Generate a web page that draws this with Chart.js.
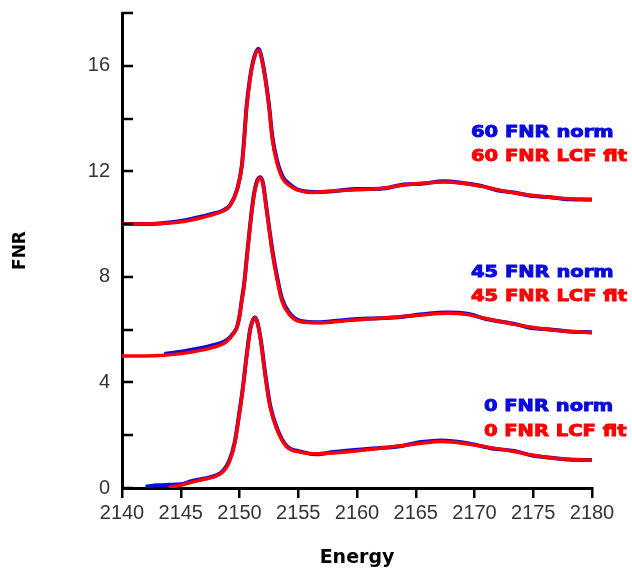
<!DOCTYPE html>
<html>
<head>
<meta charset="utf-8">
<script src="https://cdn.jsdelivr.net/npm/chart.js@4"></script>
<style>
    html, body { margin: 0; padding: 0; background: #ffffff; }
    #wrap { width: 632px; height: 569px; }
</style>
</head>
<body>
<div id="wrap"><canvas id="fnr-chart" width="632" height="569"></canvas></div>
<script>
// 0 FNR (offset 0)
const fnr0Energy = [2142, 2143, 2144, 2145, 2145.9, 2147, 2148, 2148.6, 2149.1, 2149.6, 2150.0, 2150.3, 2150.6, 2150.9, 2151.1, 2151.3, 2151.5, 2151.8, 2152.2, 2152.6, 2153.2, 2154.0, 2155.2, 2156.6, 2158, 2160.6, 2163.5, 2165.5, 2167.2, 2169.4, 2171.5, 2173.4, 2175, 2176.3, 2178, 2180];
const fnr0Norm = [0.05, 0.1, 0.12, 0.14, 0.26, 0.36, 0.48, 0.65, 1.0, 1.75, 2.9, 3.85, 5.0, 6.0, 6.32, 6.46, 6.32, 5.65, 4.3, 3.15, 2.26, 1.6, 1.38, 1.28, 1.36, 1.47, 1.57, 1.74, 1.8, 1.7, 1.5, 1.4, 1.22, 1.16, 1.08, 1.06];
const fnr0Fit = [null, null, 0.04, 0.1, 0.22, 0.33, 0.45, 0.62, 0.95, 1.7, 2.84, 3.8, 4.95, 5.95, 6.3, 6.44, 6.3, 5.6, 4.22, 3.08, 2.2, 1.57, 1.36, 1.3, 1.33, 1.44, 1.59, 1.7, 1.76, 1.67, 1.52, 1.38, 1.24, 1.15, 1.09, 1.05];

// 45 FNR (offset 5)
const fnr45Energy = [2140, 2142, 2143.6, 2145.5, 2147.5, 2148.9, 2149.5, 2149.8, 2150.0, 2150.2, 2150.4, 2150.6, 2150.9, 2151.2, 2151.5, 2151.8, 2152.0, 2152.3, 2152.8, 2153.2, 2153.6, 2154.2, 2155.2, 2156.9, 2159.2, 2161, 2163.5, 2165.5, 2167.7, 2169.4, 2171, 2173.4, 2175, 2176.3, 2178, 2180];
const fnr45Norm = [null, null, 5.08, 5.2, 5.38, 5.6, 5.88, 6.12, 6.52, 7.15, 7.75, 8.65, 9.95, 11.05, 11.65, 11.78, 11.55, 10.6, 9.0, 8.0, 7.2, 6.66, 6.33, 6.28, 6.38, 6.42, 6.47, 6.58, 6.65, 6.6, 6.4, 6.22, 6.05, 6.02, 5.93, 5.9];
const fnr45Fit = [5.0, 5.0, 5.03, 5.12, 5.3, 5.55, 5.85, 6.1, 6.5, 7.1, 7.7, 8.6, 9.9, 11.0, 11.6, 11.75, 11.5, 10.55, 8.9, 7.9, 7.1, 6.6, 6.3, 6.26, 6.35, 6.4, 6.48, 6.56, 6.62, 6.57, 6.42, 6.2, 6.08, 6.0, 5.94, 5.88];

// 60 FNR (offset 10)
const fnr60Energy = [2140, 2142, 2144, 2145.5, 2146.6, 2147.5, 2148.5, 2149.2, 2149.8, 2150.2, 2150.4, 2150.6, 2150.9, 2151.2, 2151.6, 2152.0, 2152.5, 2152.8, 2153.2, 2153.7, 2154.3, 2154.9, 2156.3, 2157.7, 2160, 2162, 2164, 2165.5, 2167.4, 2169, 2170.6, 2172, 2173.4, 2175, 2176.3, 2178, 2180];
const fnr60Norm = [10.0, 10.0, 10.06, 10.16, 10.27, 10.37, 10.5, 10.72, 11.32, 12.22, 13.25, 14.45, 15.55, 16.25, 16.65, 16.05, 14.55, 13.3, 12.4, 11.78, 11.5, 11.32, 11.22, 11.24, 11.33, 11.34, 11.5, 11.53, 11.62, 11.56, 11.45, 11.27, 11.2, 11.06, 11.03, 10.94, 10.93];
const fnr60Fit = [10.0, 10.0, 10.04, 10.12, 10.22, 10.33, 10.48, 10.7, 11.3, 12.2, 13.2, 14.4, 15.5, 16.2, 16.6, 16.0, 14.5, 13.2, 12.3, 11.7, 11.45, 11.3, 11.2, 11.25, 11.3, 11.35, 11.48, 11.55, 11.6, 11.55, 11.43, 11.3, 11.18, 11.08, 11.02, 10.96, 10.92];

// text labels next to the curves (anchored in data units)
const labelTexts = ['60 FNR norm', '60 FNR LCF fit', '45 FNR norm', '45 FNR LCF fit', '0 FNR norm', '0 FNR LCF fit'];
const labelEnergy = [2169.7, 2169.7, 2169.7, 2169.7, 2170.8, 2170.8];
const labelFNR = [13.47, 12.56, 8.16, 7.25, 3.07, 2.13];
const labelIsFit = [false, true, false, true, false, true];

const BLUE = '#0a0adc';
const RED = '#ff0000';

function toPoints(xs, ys) {
    return xs.map((x, i) => ({ x: x, y: ys[i] }));
}

function series(label, xs, ys, color, width, order) {
    return {
        label: label,
        data: toPoints(xs, ys),
        borderColor: color,
        backgroundColor: color,
        borderWidth: width,
        pointRadius: 0,
        fill: false,
        cubicInterpolationMode: 'monotone',
        order: order,
    };
}

const curveLabels = {
    id: 'curveLabels',
    afterDatasetsDraw(chart) {
        const ctx = chart.ctx;
        const xs = chart.scales.x;
        const ys = chart.scales.y;
        ctx.save();
        ctx.font = 'bold 16px "DejaVu Sans"';
        ctx.textBaseline = 'middle';
        ctx.textAlign = 'left';
        ctx.lineWidth = 0.9;
        labelTexts.forEach((t, i) => {
            ctx.save();
            ctx.translate(xs.getPixelForValue(labelEnergy[i]), ys.getPixelForValue(labelFNR[i]));
            ctx.scale(1.22, 1);
            ctx.fillStyle = labelIsFit[i] ? RED : BLUE;
            ctx.strokeStyle = ctx.fillStyle;
            ctx.fillText(t, 0, 0);
            ctx.strokeText(t, 0, 0);
            ctx.restore();
        });
        ctx.restore();
    },
    // y ticks point into the plot
    afterDraw(chart) {
        const ctx = chart.ctx;
        const ys = chart.scales.y;
        const left = chart.chartArea.left;
        ctx.save();
        ctx.strokeStyle = '#000';
        ctx.lineWidth = 2.5;
        ys.ticks.forEach(tk => {
            const py = Math.round(ys.getPixelForValue(tk.value));
            ctx.beginPath();
            ctx.moveTo(left, py);
            ctx.lineTo(left + 11, py);
            ctx.stroke();
        });
        ctx.restore();
    }
};

document.addEventListener('DOMContentLoaded', function () {
    const ctx = document.getElementById('fnr-chart').getContext('2d');

    new Chart(ctx, {
        type: 'line',
        data: {
            datasets: [
                series('60 FNR LCF fit', fnr60Energy, fnr60Fit, RED, 3.5, 0),
                series('45 FNR LCF fit', fnr45Energy, fnr45Fit, RED, 3.5, 0),
                series('0 FNR LCF fit', fnr0Energy, fnr0Fit, RED, 3.5, 0),
                series('60 FNR norm', fnr60Energy, fnr60Norm, BLUE, 4, 1),
                series('45 FNR norm', fnr45Energy, fnr45Norm, BLUE, 4, 1),
                series('0 FNR norm', fnr0Energy, fnr0Norm, BLUE, 4, 1),
            ],
        },
        options: {
            responsive: false,
            animation: false,
            layout: {
                padding: { top: 13, right: 40, left: 0, bottom: 0 },
            },
            plugins: {
                legend: { display: false },
                tooltip: { enabled: false },
            },
            scales: {
                x: {
                    type: 'linear',
                    min: 2140,
                    max: 2180,
                    afterFit: scale => { scale.height = 81; },
                    border: { display: true, color: '#000', width: 3 },
                    grid: {
                        drawOnChartArea: false,
                        drawTicks: true,
                        tickLength: 10,
                        color: '#000',
                        lineWidth: 2.5,
                    },
                    ticks: {
                        stepSize: 5,
                        padding: 3,
                        color: '#333',
                        font: { family: '"Liberation Sans"', size: 20 },
                        maxRotation: 0,
                        callback: v => String(v),
                    },
                    title: {
                        display: true,
                        text: 'Energy',
                        color: '#000',
                        font: { family: '"DejaVu Sans"', size: 19, weight: 'bold' },
                        padding: { top: 0, bottom: 0 },
                    },
                },
                y: {
                    min: 0,
                    max: 18,
                    afterFit: scale => {
                        scale.width = 122;
                        scale.paddingTop = 0;
                        scale.paddingBottom = 0;
                    },
                    border: { display: true, color: '#000', width: 3 },
                    grid: { display: false, drawTicks: false },
                    ticks: {
                        stepSize: 2,
                        padding: 12,
                        color: '#333',
                        font: { family: '"Liberation Sans"', size: 20 },
                        callback: v => (v % 4 === 0 && v < 18 ? v : ''),
                    },
                    title: {
                        display: true,
                        text: 'FNR',
                        color: '#000',
                        font: { family: '"DejaVu Sans"', size: 17, weight: 'bold' },
                        padding: { top: 10, bottom: 0 },
                    },
                },
            },
        },
        plugins: [curveLabels],
    });
});
</script>
</body>
</html>
